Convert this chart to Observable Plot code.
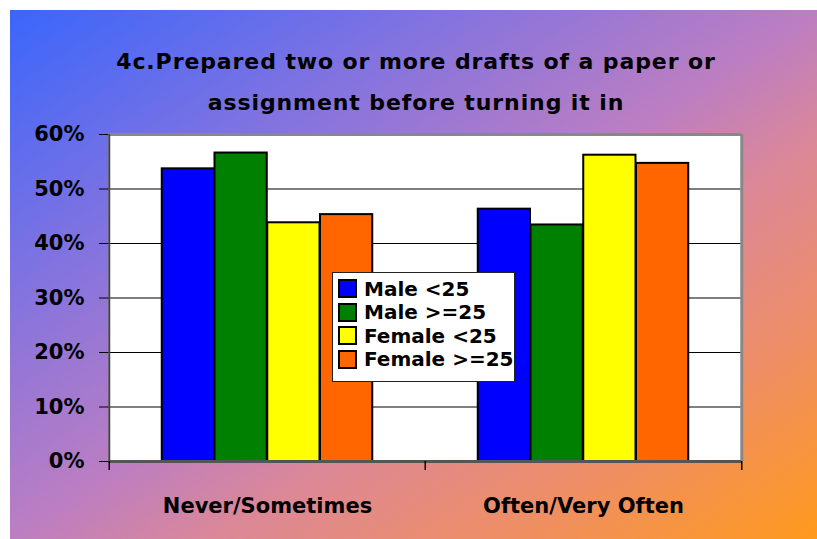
<!DOCTYPE html>
<html>
<head>
<meta charset="utf-8">
<script src="https://cdn.jsdelivr.net/npm/d3@7"></script>
<script src="https://cdn.jsdelivr.net/npm/@observablehq/plot@0.6"></script>
<style>
  html, body { margin: 0; padding: 0; background: #fff; }
  #page { position: relative; width: 817px; height: 539px; overflow: hidden; background: #fff; font-family: "DejaVu Sans", sans-serif; }
  #bg { position: absolute; left: 10px; top: 10px; width: 807px; height: 529px;
        background: linear-gradient(to bottom right, #3a66fb 0%, #7d72e2 25%, #bc7ec2 50%, #dc8896 63%, #ee8e66 80%, #ff9a1c 100%); }
  #title { position: absolute; left: 10px; width: 812px; top: 41px; text-align: center; font-weight: bold; font-size: 22px; letter-spacing: 0.9px; line-height: 41px; color: #000; }
  #chart { position: absolute; left: 0; top: 120px; }
  #legend { position: absolute; left: 332px; top: 272px; width: 183px; height: 110px; background: #fff; border: 1px solid #222; box-sizing: border-box; padding: 4px 0 0 5px; }
  .row { display: flex; align-items: center; height: 23.5px; font-weight: bold; font-size: 20px; white-space: nowrap; }
  .sw { width: 15px; height: 15px; border: 2px solid #000; margin-right: 7px; flex: none; }
</style>
</head>
<body>
<div id="page">
  <div id="bg"></div>
  <div id="title">4c.Prepared two or more drafts of a paper or<br>assignment before turning it in</div>
  <div id="chart"></div>
  <div id="legend"></div>
</div>
<script>
const categories = ["Never/Sometimes", "Often/Very Often"];
const series = ["Male <25", "Male >=25", "Female <25", "Female >=25"];
const colors = ["#0000ff", "#008000", "#ffff00", "#ff6600"];
const neverSometimes = [0.537, 0.566, 0.438, 0.453];
const oftenVeryOften = [0.463, 0.434, 0.562, 0.547];
const yTicks = [0, 0.1, 0.2, 0.3, 0.4, 0.5, 0.6];

const values = [neverSometimes, oftenVeryOften];
const data = [];
categories.forEach((c, ci) => series.forEach((s, si) => data.push({category: c, series: s, value: values[ci][si]})));

const W = 817, H = 410, mL = 108, mR = 76, mT = 14, mB = 69;
const band = (W - mL - mR) / categories.length;
const step = band / (series.length + 2);
const half = band / 2;
const tickLen = 0.6 / (H - mT - mB) * 9;

const bars = series.map((s, i) => Plot.barY(data.filter(d => d.series === s), {
  x: "category", y: "value", fill: "series", stroke: "#000", strokeWidth: 2,
  insetLeft: step * (1 + i), insetRight: step * (series.length - i)
}));

const chart = Plot.plot({
  width: W, height: H,
  marginLeft: mL, marginRight: mR, marginTop: mT, marginBottom: mB,
  style: {fontSize: "21px", fontWeight: "bold", fontFamily: "DejaVu Sans, sans-serif", background: "transparent", color: "#000"},
  x: {domain: categories, padding: 0, tickSize: 0, tickPadding: 37, label: null},
  y: {domain: [0, 0.6], ticks: yTicks, tickFormat: d3.format(".0%"), tickSize: 9, tickPadding: 15, label: null},
  color: {domain: series, range: colors},
  marks: [
    Plot.frame({fill: "#fff", stroke: null}),
    Plot.ruleY(yTicks.filter(v => v > 0 && v < 0.6), {stroke: "#000", strokeWidth: 1.2}),
    Plot.ruleY([0.6], {stroke: "#888", strokeWidth: 3}),
    Plot.ruleX(categories.slice(-1), {y1: 0, y2: 0.6, dx: half, stroke: "#888", strokeWidth: 3}),
    ...bars,
    Plot.ruleX(categories.slice(0, 1), {y1: 0, y2: 0.6, dx: -half, stroke: "#444", strokeWidth: 2}),
    Plot.ruleY([0], {stroke: "#555", strokeWidth: 3}),
    Plot.ruleX(categories, {y1: 0, y2: -tickLen, dx: -half, stroke: "#000", strokeWidth: 1.5}),
    Plot.ruleX(categories.slice(-1), {y1: 0, y2: -tickLen, dx: half, stroke: "#000", strokeWidth: 1.5})
  ]
});
document.getElementById("chart").appendChild(chart);

const legend = document.getElementById("legend");
series.forEach((s, i) => {
  const row = document.createElement("div");
  row.className = "row";
  const sw = document.createElement("span");
  sw.className = "sw";
  sw.style.background = colors[i];
  const t = document.createElement("span");
  t.textContent = s;
  row.appendChild(sw); row.appendChild(t);
  legend.appendChild(row);
});
</script>
</body>
</html>
